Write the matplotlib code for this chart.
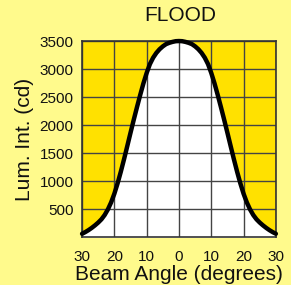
import matplotlib
matplotlib.use('Agg')

import matplotlib.pyplot as plt

plt.rcParams['font.family'] = ['Liberation Sans', 'DejaVu Sans']

# beam angle (deg) and luminous intensity (cd)
angles = list(range(-30, 31))
intensity = [60, 90, 125, 165, 210, 260, 318, 395, 495, 620, 775, 960, 1168, 1391, 1625, 1862,
             2094, 2319, 2537, 2745, 2930, 3088, 3202, 3288, 3354, 3405, 3445, 3468, 3485, 3497,
             3500,
             3497, 3485, 3468, 3445, 3405, 3354, 3288, 3202, 3088, 2930, 2745, 2537, 2319, 2094,
             1862, 1625, 1391, 1168, 960, 775, 620, 495, 395, 318, 260, 210, 165, 125, 90, 60]

x_ticks = [-30, -20, -10, 0, 10, 20, 30]
x_tick_labels = ['30', '20', '10', '0', '10', '20', '30']
y_ticks = [500, 1000, 1500, 2000, 2500, 3000, 3500]

bg = '#FFFA8C'
fill_yellow = '#FFE100'

fig = plt.figure(figsize=(2.91, 2.85), dpi=100)
fig.patch.set_facecolor(bg)
ax = fig.add_axes([0.282, 0.168, 0.666, 0.688])
ax.set_facecolor(fill_yellow)

# white area under the curve, yellow stays above it
ax.fill_between(angles, 0, intensity, color='white', zorder=1)
ax.plot(angles, intensity, color='black', lw=3.2, solid_capstyle='round',
        solid_joinstyle='round', zorder=4, clip_on=False)

ax.set_xlim(-30, 30)
ax.set_ylim(0, 3500)
ax.set_xticks(x_ticks)
ax.set_xticklabels(x_tick_labels)
ax.set_yticks(y_ticks)
ax.grid(True, color='#444444', lw=1.0, zorder=2)
ax.set_axisbelow(False)
for line in ax.get_xgridlines() + ax.get_ygridlines():
    line.set_zorder(2)

ax.tick_params(length=0, labelsize=11, colors='#111111')
ax.tick_params(axis='x', pad=9)
ax.tick_params(axis='y', pad=6)

for side in ['left', 'bottom', 'top', 'right']:
    ax.spines[side].set_color('#333333')
    ax.spines[side].set_linewidth(1.2)
    ax.spines[side].set_zorder(3)

ax.set_xlabel('Beam Angle (degrees)', fontsize=15, labelpad=1, color='#111111')
ax.set_ylabel('Lum. Int. (cd)', fontsize=15, labelpad=4, color='#111111')
fig.text(0.62, 0.945, 'FLOOD', ha='center', va='center', fontsize=15, color='#111111')

plt.savefig('out.png', dpi=100, facecolor=bg)
plt.close()
